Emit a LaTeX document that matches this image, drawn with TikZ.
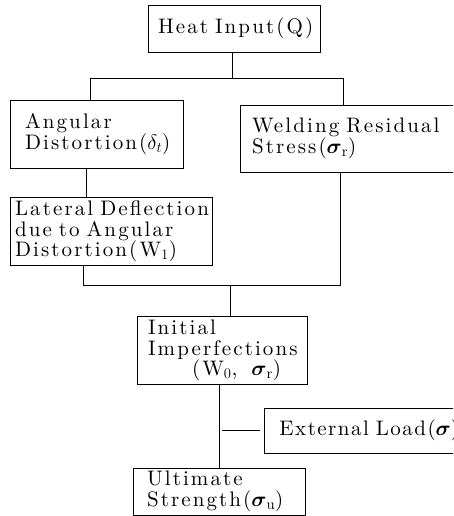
\RequirePackage{fix-cm}
\documentclass[tikz,border=0pt]{standalone}
\usepackage{amsmath}
\usepackage{fontspec}
\setmainfont{lmroman10-regular.otf}[LetterSpace=10, BoldFont=lmroman10-bold.otf]
\usepackage{tikz}
\tikzstyle{block} = [draw, line width=0.9pt, align=left, font=\fontsize{21}{20.5}\selectfont]

\begin{document}
\begin{tikzpicture}[x=1pt,y=-1pt,line width=0.8pt]
	\clip (0,0) rectangle (453,516);
	\node[block,minimum width=172pt,minimum height=47pt,inner xsep=10pt,text width=152pt] (heat) at (234,28.5) {Heat~Input(Q)};
	\node[block,minimum width=173pt,minimum height=68pt,inner xsep=15pt,text width=143pt] (angular) at (96.5,134) {Angular\\Distortion($\delta_t$)};
	\node[block,minimum width=230pt,minimum height=67pt,inner xsep=12pt,text width=206pt] (welding) at (355,138.5) {Welding~Residual\\Stress($\boldsymbol{\sigma}_{\mathrm{r}}$)};
	\node[block,minimum width=202pt,minimum height=67pt,inner xsep=5pt,text width=192pt] (lateral) at (111,231.5) {Lateral~Deflection\\due~to~Angular\\Distortion(W$_1$)};
	\node[block,minimum width=170pt,minimum height=65pt,inner xsep=11pt,text width=148pt] (initial) at (222,350.5) {Initial\\Imperfections\\\hspace*{44pt}(W$_0$,\ \ $\boldsymbol{\sigma}_{\mathrm{r}}$)};
	\node[block,anchor=west,minimum width=206pt,minimum height=45pt,inner xsep=8pt,text width=176pt] (external) at (264,430.5) {\addfontfeatures{LetterSpace=7}External~Load($\boldsymbol{\sigma}$)};
	\node[block,minimum width=172pt,minimum height=43pt,inner xsep=14pt,text width=144pt] (ultimate) at (219,491.5) {Ultimate\\Strength($\boldsymbol{\sigma}_{\mathrm{u}}$)};

	\coordinate (fork) at (232,78);
	\coordinate (forkL) at (90,78);
	\coordinate (forkR) at (343,78);
	\coordinate (joinL) at (83,285);
	\coordinate (joinR) at (340,285);
	\coordinate (join) at (230,285);
	\coordinate (tap) at (222,430.5);

	\draw (fork |- heat.south) -- (fork);
	\draw (forkL |- angular.north) -- (forkL) -- (forkR) -- (forkR |- welding.north);
	\draw ([xshift=-10pt]angular.south) -- ([xshift=-10pt]angular.south |- lateral.north);
	\draw (joinL |- lateral.south) -- (joinL) -- (joinR) -- (joinR |- welding.south);
	\draw (join) -- (join |- initial.north);
	\draw ([xshift=-3pt]initial.south) -- ([xshift=-3pt]initial.south |- ultimate.north);
	\draw[shorten >=4pt] (tap) -- (external.west);
\end{tikzpicture}
\end{document}
